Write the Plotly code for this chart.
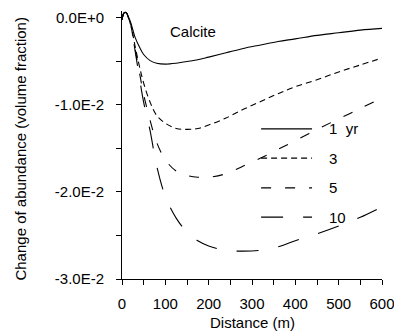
import plotly.graph_objects as go

# Data
distance = [0, 5, 10, 15, 20, 30, 40, 50, 65, 80, 100, 125, 150, 175, 200, 240,
            280, 320, 360, 400, 450, 500, 550, 600]
yr1 = [-0.0002, 0.0006, 0.0006, 0.0001, -0.0005, -0.0022, -0.0033, -0.0042, -0.0049,
       -0.0052, -0.0053, -0.0052, -0.0050, -0.0048, -0.0045, -0.0040, -0.0035, -0.0031,
       -0.0027, -0.0024, -0.0020, -0.0017, -0.0014, -0.0012]
yr3 = [-0.0002, 0.0006, 0.0006, 0.0000, -0.0007, -0.0032, -0.0055, -0.0075, -0.0097,
       -0.0112, -0.0121, -0.0127, -0.0128, -0.0127, -0.0123, -0.0115, -0.0105, -0.0096,
       -0.0087, -0.0079, -0.0071, -0.0062, -0.0054, -0.0046]
yr5 = [-0.0002, 0.0006, 0.0006, 0.0000, -0.0008, -0.0035, -0.0062, -0.0088, -0.0118,
       -0.0143, -0.0163, -0.0176, -0.0181, -0.0183, -0.0183, -0.0179, -0.0170, -0.0161,
       -0.0151, -0.0141, -0.0128, -0.0116, -0.0104, -0.0092]
yr10 = [-0.0002, 0.0006, 0.0006, 0.0000, -0.0008, -0.0037, -0.0068, -0.0097, -0.0130,
        -0.0170, -0.0205, -0.0230, -0.0246, -0.0256, -0.0262, -0.0267, -0.0268, -0.0267,
        -0.0263, -0.0256, -0.0248, -0.0239, -0.0229, -0.0217]

series = [("1\u00a0\u00a0yr", yr1, "solid"),
          ("3", yr3, "6px,4px"),
          ("5", yr5, "10px,14px"),
          ("10", yr10, "22px,20px")]

x_ticks = [0, 100, 200, 300, 400, 500, 600]
y_ticks = [0, -0.01, -0.02, -0.03]
y_labels = ["0.0E+0", "-1.0E-2", "-2.0E-2", "-3.0E-2"]

FONT = "Liberation Sans, Arial, sans-serif"
FS = 15

fig = go.Figure()
for name, vals, dash in series:
    fig.add_trace(go.Scatter(x=distance, y=vals, mode="lines", name=name,
                             line=dict(color="black", width=1.1, dash=dash, shape="spline"),
                             showlegend=False))

# Manual legend (line samples + labels)
leg_y = [0.560, 0.451, 0.340, 0.231]
for (name, vals, dash), yy in zip(series, leg_y):
    fig.add_shape(type="line", xref="paper", yref="paper", x0=0.535, x1=0.731, y0=yy, y1=yy,
                  line=dict(color="black", width=1.1, dash=dash))
    fig.add_annotation(xref="paper", yref="paper", x=0.79, y=yy, text=name, showarrow=False,
                       xanchor="left", yanchor="middle", font=dict(size=FS, color="black", family=FONT))

fig.add_annotation(xref="paper", yref="paper", x=0.273, y=0.925, text="Calcite", showarrow=False,
                   xanchor="center", yanchor="middle", font=dict(size=FS, color="black", family=FONT))

# Axis titles
fig.add_annotation(xref="paper", yref="paper", x=0.5, y=-0.164, text="Distance (m)", showarrow=False,
                   xanchor="center", yanchor="middle", font=dict(size=FS, color="black", family=FONT))
fig.add_annotation(xref="paper", yref="paper", x=-0.392, y=0.487,
                   text="Change of abundance (volume fraction)", showarrow=False, textangle=-90,
                   xanchor="center", yanchor="middle", font=dict(size=FS, color="black", family=FONT))

fig.update_layout(
    width=394, height=331,
    margin=dict(l=122, r=12, t=11, b=52, autoexpand=False),
    paper_bgcolor="white", plot_bgcolor="white",
    font=dict(family=FONT, size=FS, color="black"),
    showlegend=False,
)
fig.update_xaxes(range=[0, 600], tickvals=x_ticks, showgrid=False, zeroline=False,
                 showline=True, linecolor="black", linewidth=1, automargin=False,
                 ticklabeloverflow="allow",
                 ticks="outside", ticklen=5, tickcolor="black", ticklabelstandoff=6,
                 minor=dict(dtick=50, ticks="outside", ticklen=5, tickcolor="black"))
fig.update_yaxes(range=[-0.03, 0.0008], showgrid=False, zeroline=False,
                 showline=True, linecolor="black", linewidth=1, automargin=False,
                 ticklabeloverflow="allow",
                 ticks="outside", ticklen=5, tickcolor="black", ticklabelstandoff=9,
                 tickvals=y_ticks, ticktext=y_labels,
                 minor=dict(tickvals=[-0.005, -0.015, -0.025], ticks="outside", ticklen=5, tickcolor="black"))

fig.write_html("out.html")
